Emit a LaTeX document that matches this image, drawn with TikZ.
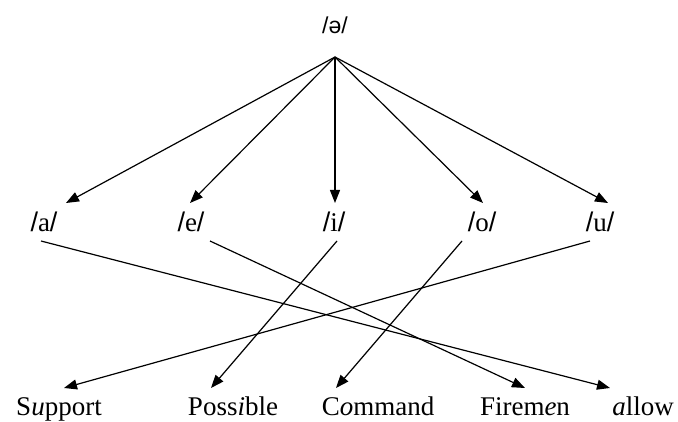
\documentclass[tikz,border=0pt]{standalone}
\usepackage{fontspec}
\setmainfont{Liberation Serif}
\newfontfamily\serf{Liberation Serif}
\newfontfamily\sansf{Liberation Sans}
\usetikzlibrary{arrows.meta}
\begin{document}
\begin{tikzpicture}[x=1pt,y=-1pt,
  lbl/.style={inner sep=0pt,font=\fontsize{27}{32}\selectfont},
  arr/.style={line width=1.2pt,-{Triangle[length=13pt,width=10pt]}}]
\useasboundingbox (0,0) rectangle (678,422);
\node[lbl] (schwa) at (335,25) {\sansf\fontsize{23}{28}\selectfont /ə/};
\coordinate (apex) at (335,57);
\node[lbl] (a) at (44,222) {{\sansf/}\serf a{\sansf/}};
\node[lbl] (e) at (191,222) {{\sansf/}\serf e{\sansf/}};
\node[lbl] (i) at (334,222) {{\sansf/}\serf i{\sansf/}};
\node[lbl] (o) at (482,222) {{\sansf/}\serf o{\sansf/}};
\node[lbl] (u) at (600,222) {{\sansf/}\serf u{\sansf/}};
\coordinate (ta) at (66,203);
\coordinate (te) at (190,203);
\coordinate (ti) at (335,203);
\coordinate (to) at (483,203);
\coordinate (tu) at (608,203);
\draw[arr] (apex) -- (ta);
\draw[arr] (apex) -- (te);
\draw[arr] (apex) -- (ti);
\draw[arr] (apex) -- (to);
\draw[arr] (apex) -- (tu);
\node[lbl,anchor=base] (w1) at (59,415) {\serf S\textit{u}pport};
\node[lbl,anchor=base] (w2) at (233,415) {\serf Poss\textit{i}ble};
\node[lbl,anchor=base] (w3) at (378,415) {\serf C\textit{o}mmand};
\node[lbl,anchor=base] (w4) at (525,415) {\serf Firem\textit{e}n};
\node[lbl,anchor=base] (w5) at (643,415) {\serf\textit{a}llow};
\coordinate (sa) at (41,241);
\coordinate (se) at (210,241);
\coordinate (si) at (337,241);
\coordinate (so) at (462,241);
\coordinate (su) at (590,241);
\coordinate (e1) at (64,388);
\coordinate (e2) at (211,388);
\coordinate (e3) at (336,388);
\coordinate (e4) at (525,388);
\coordinate (e5) at (610,388);
\draw[arr] (sa) -- (e5);
\draw[arr] (se) -- (e4);
\draw[arr] (si) -- (e2);
\draw[arr] (so) -- (e3);
\draw[arr] (su) -- (e1);
\end{tikzpicture}
\end{document}
